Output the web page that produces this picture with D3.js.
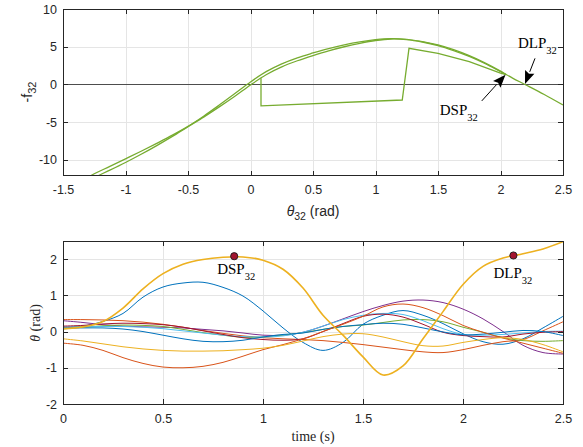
<!DOCTYPE html>
<html><head><meta charset="utf-8">
<script src="https://cdn.jsdelivr.net/npm/d3@7"></script>
<style>body{margin:0;background:#fff}svg{display:block}</style>
</head><body>
<svg id="c" width="583" height="447"></svg>
<script>
// ---------- top plot data: (theta32, -f32) trajectory ----------
const topXTicks = [-1.5,-1,-0.5,0,0.5,1,1.5,2,2.5];
const topYTicks = [-10,-5,0,5,10];
const branchATheta = [-1.3,-1.25,-1.125,-1.0,-0.875,-0.75,-0.625,-0.5,-0.375,-0.25,-0.125,0,0.125,0.25,0.375,0.5,0.625,0.75,0.875,1.0,1.125,1.25,1.375,1.5,1.625,1.75,1.875,2.0,2.045,2.1,2.2,2.35,2.5];
const branchAF     = [-12.35,-11.87,-10.89,-9.89,-8.88,-7.83,-6.75,-5.58,-4.23,-2.755,-1.22,0.32,1.68,2.72,3.52,4.16,4.75,5.25,5.65,5.94,6.08,5.98,5.68,5.24,4.6,3.8,2.85,1.75,1.3,0.8,-0.05,-1.35,-2.75];
const branchBTheta = [-1.3,-1.25,-1.125,-1.0,-0.875,-0.75,-0.625,-0.5,-0.375,-0.25,-0.125,0,0.125,0.25,0.375,0.5,0.625,0.75,0.875,1.0,1.125,1.25,1.375,1.5,1.625,1.75,1.875,2.0,2.045];
const branchBF     = [-12.85,-12.37,-11.39,-10.37,-9.28,-8.13,-6.91,-5.62,-4.35,-2.995,-1.58,-0.08,1.28,2.32,3.13,3.82,4.45,4.99,5.45,5.82,6.02,5.94,5.62,5.14,4.48,3.7,2.77,1.69,1.3];
const loopTheta = [0.084,0.084,1.214,1.268,1.5,1.75,2.0,2.045];
const loopF     = [0.8,-2.85,-2.08,4.78,4.1,3.0,1.5,1.28];
// annotation arrows (data coords): tip and tail
const dspArrow = {tip:[2.04,1.28], tail:[1.85,-2.2]};
const dlpArrow = {tip:[2.196,0.05], tail:[2.276,3.45]};

// ---------- bottom plot data: joint angles vs time ----------
const timeS = [0,0.1,0.2,0.3,0.4,0.5,0.6,0.7,0.8,0.9,1.0,1.1,1.2,1.3,1.4,1.5,1.6,1.7,1.8,1.9,2.0,2.1,2.2,2.3,2.4,2.5];
const botXTicks = [0,0.5,1,1.5,2,2.5];
const botYTicks = [-2,-1,0,1,2];
const blueBig    = [0.12,0.15,0.28,0.5,0.95,1.23,1.34,1.36,1.22,0.98,0.57,0.1,-0.3,-0.52,-0.3,0.2,0.45,0.58,0.45,0.22,-0.06,-0.28,-0.35,-0.2,0.1,0.42];
const orangeA    = [0.33,0.33,0.32,0.3,0.26,0.2,0.12,0.03,-0.05,-0.12,-0.17,-0.2,-0.22,-0.25,-0.3,-0.36,-0.43,-0.5,-0.56,-0.58,-0.5,-0.38,-0.28,-0.22,0.02,0.27];
const yellowThick= [0.08,0.13,0.28,0.65,1.18,1.6,1.86,1.99,2.05,2.06,1.97,1.72,1.2,0.45,-0.1,-0.7,-1.2,-0.95,-0.2,0.55,1.3,1.8,2.03,2.15,2.28,2.48];
const purple     = [0.3,0.25,0.19,0.15,0.13,0.12,0.1,0.06,0.02,-0.04,-0.1,-0.1,-0.02,0.15,0.35,0.55,0.72,0.84,0.87,0.8,0.62,0.35,0.0,-0.38,-0.58,-0.62];
const green      = [0.07,0.12,0.16,0.18,0.17,0.14,0.06,-0.03,-0.1,-0.16,-0.15,-0.1,-0.03,0.06,0.14,0.18,0.25,0.32,0.33,0.27,0.12,-0.02,-0.17,-0.25,-0.27,-0.25];
const lightBlue  = [0.12,0.13,0.14,0.14,0.12,0.08,0.02,-0.04,-0.1,-0.14,-0.15,-0.12,-0.02,0.15,0.33,0.45,0.5,0.47,0.3,0.08,-0.08,-0.1,-0.08,-0.04,0.0,0.01];
const darkRed    = [0.15,0.17,0.21,0.23,0.22,0.19,0.12,0.02,-0.08,-0.17,-0.22,-0.24,-0.2,0.0,0.22,0.42,0.48,0.4,0.2,-0.02,-0.11,-0.14,-0.15,-0.07,-0.02,0.0];
const blue2      = [0.1,0.1,0.1,0.07,0.0,-0.1,-0.2,-0.27,-0.28,-0.24,-0.15,-0.08,-0.04,0.06,0.14,0.19,0.23,0.2,0.1,-0.01,-0.09,-0.07,-0.02,0.03,0.0,-0.11];
const orangeB    = [-0.32,-0.38,-0.52,-0.72,-0.88,-0.98,-1.0,-0.96,-0.85,-0.68,-0.5,-0.36,-0.2,0.0,0.2,0.42,0.68,0.76,0.66,0.44,0.17,-0.02,-0.18,-0.32,-0.46,-0.6];
const yellowThin = [-0.2,-0.26,-0.34,-0.42,-0.48,-0.52,-0.54,-0.54,-0.53,-0.5,-0.46,-0.38,-0.26,-0.14,-0.07,-0.06,-0.15,-0.28,-0.39,-0.4,-0.3,-0.22,-0.17,-0.22,-0.36,-0.56];
const markerPoints = [{name:"DSP", t:0.856, v:2.08}, {name:"DLP", t:2.252, v:2.1}];

// ---------- drawing ----------
const C = {blue:"#0072BD", orange:"#D95319", yellow:"#EDB120", purple:"#7E2F8E", green:"#77AC30", lblue:"#4DBEEE", dred:"#A2142F"};
const SANS = "'Liberation Sans', Arial, Helvetica, sans-serif";
const SERIF = "'Liberation Serif', 'Times New Roman', serif";
const svg = d3.select("#c");

const topX = d3.scaleLinear().domain([-1.5,2.5]).range([63,563]);
const topY = d3.scaleLinear().domain([-12.1,10]).range([175.5,9]);
const botX = d3.scaleLinear().domain([0,2.5]).range([63,563]);
const botY = d3.scaleLinear().domain([-2,2.5]).range([404,241]);

function grid(x, y, xt, yt) {
  const [x0,x1] = x.range(), [yb,yt0] = y.range();
  const g = svg.append("g");
  g.append("g").attr("transform",`translate(0,${yb})`)
    .call(d3.axisBottom(x).tickValues(xt).tickSize(-(yb-yt0)).tickFormat(""))
    .call(s=>{s.select(".domain").remove(); s.selectAll("line").attr("stroke","#e5e5e5").attr("shape-rendering","crispEdges");});
  g.append("g").attr("transform",`translate(${x0},0)`)
    .call(d3.axisLeft(y).tickValues(yt).tickSize(-(x1-x0)).tickFormat(""))
    .call(s=>{s.select(".domain").remove(); s.selectAll("line").attr("stroke","#e5e5e5").attr("shape-rendering","crispEdges");});
}
function axes(x, y, xt, yt) {
  const [x0,x1] = x.range(), [yb,yt0] = y.range();
  const g = svg.append("g");
  const style = s => {
    s.select(".domain").remove();
    s.selectAll("line").attr("stroke","#262626").attr("shape-rendering","crispEdges");
    s.selectAll("text").attr("fill","#262626").style("font-family",SANS).style("font-size","12.5px");
  };
  g.append("g").attr("transform",`translate(0,${yb})`)
    .call(d3.axisBottom(x).tickValues(xt).tickSizeInner(-5).tickSizeOuter(0).tickPadding(10).tickFormat(d=>String(d))).call(style);
  g.append("g").attr("transform",`translate(0,${yt0})`)
    .call(d3.axisTop(x).tickValues(xt).tickSizeInner(-5).tickSizeOuter(0).tickFormat("")).call(style);
  g.append("g").attr("transform",`translate(${x0},0)`)
    .call(d3.axisLeft(y).tickValues(yt).tickSizeInner(-5).tickSizeOuter(0).tickPadding(6).tickFormat(d=>String(d))).call(style);
  g.append("g").attr("transform",`translate(${x1},0)`)
    .call(d3.axisRight(y).tickValues(yt).tickSizeInner(-5).tickSizeOuter(0).tickFormat("")).call(style);
  g.append("rect").attr("x",x0).attr("y",yt0).attr("width",x1-x0).attr("height",yb-yt0)
    .attr("fill","none").attr("stroke","#262626").attr("shape-rendering","crispEdges");
}

const defs = svg.append("defs");
defs.append("clipPath").attr("id","clipTop").append("rect")
  .attr("x",63).attr("y",9).attr("width",500).attr("height",166.5);
defs.append("clipPath").attr("id","clipBot").append("rect")
  .attr("x",63).attr("y",241).attr("width",500).attr("height",163);

// ===== TOP PLOT =====
grid(topX, topY, topXTicks, topYTicks);
svg.append("line").attr("x1",topX(-1.5)).attr("x2",topX(2.5)).attr("y1",topY(0)).attr("y2",topY(0))
  .attr("stroke","#4d4d4d").attr("stroke-width",1).attr("shape-rendering","crispEdges");
const topG = svg.append("g").attr("clip-path","url(#clipTop)");
const zipPts = (a,b) => a.map((v,i)=>[v,b[i]]);
const lineTop = d3.line().x(d=>topX(d[0])).y(d=>topY(d[1])).curve(d3.curveCatmullRom.alpha(0.5));
const lineTopLin = d3.line().x(d=>topX(d[0])).y(d=>topY(d[1]));
topG.append("path").attr("d",lineTop(zipPts(branchATheta,branchAF))).attr("fill","none").attr("stroke",C.green).attr("stroke-width",1.3);
topG.append("path").attr("d",lineTop(zipPts(branchBTheta,branchBF))).attr("fill","none").attr("stroke",C.green).attr("stroke-width",1.3);
topG.append("path").attr("d",lineTopLin(zipPts(loopTheta,loopF))).attr("fill","none").attr("stroke",C.green).attr("stroke-width",1.3).attr("stroke-linejoin","miter");
axes(topX, topY, topXTicks, topYTicks);

function arrow(a) {
  const tx = topX(a.tip[0]), ty = topY(a.tip[1]);
  const sx = topX(a.tail[0]), sy = topY(a.tail[1]);
  const ang = Math.atan2(ty-sy, tx-sx);
  const L = 13, Wd = 5;
  const bx = tx - L*Math.cos(ang), by = ty - L*Math.sin(ang);
  svg.append("line").attr("x1",sx).attr("y1",sy).attr("x2",bx).attr("y2",by).attr("stroke","#000").attr("stroke-width",1);
  const p1 = [bx + Wd*Math.sin(ang), by - Wd*Math.cos(ang)];
  const p2 = [bx - Wd*Math.sin(ang), by + Wd*Math.cos(ang)];
  svg.append("path").attr("d",`M${tx},${ty}L${p1[0]},${p1[1]}L${bx+2*Math.cos(ang)},${by+2*Math.sin(ang)}L${p2[0]},${p2[1]}Z`).attr("fill","#000");
}
arrow(dspArrow); arrow(dlpArrow);

function subLabel(x, y, main, sub, size, subSize, shift) {
  const t = svg.append("text").attr("x",x).attr("y",y).style("font-family",SERIF).style("font-size",size+"px").attr("fill","#000");
  t.append("tspan").text(main);
  t.append("tspan").attr("dy",shift).style("font-size",subSize+"px").text(sub);
  return t;
}
subLabel(topX(dlpArrow.tail[0]) - 17, topY(dlpArrow.tail[1]) - 10, "DLP", "32", 15, 10.5, 6);
subLabel(topX(dspArrow.tail[0]) - 42, topY(dspArrow.tail[1]) + 14, "DSP", "32", 15, 10.5, 6);

{
  const t = svg.append("text").attr("transform","translate(32,92) rotate(-90)").attr("text-anchor","middle")
    .style("font-family",SANS).style("font-size","14px").attr("fill","#262626");
  t.append("tspan").text("-f");
  t.append("tspan").attr("dy",4).style("font-size","11px").text("32");
}
{
  const t = svg.append("text").attr("x",313).attr("y",216).attr("text-anchor","middle")
    .style("font-family",SANS).style("font-size","14px").attr("fill","#262626");
  t.append("tspan").style("font-style","italic").text("θ");
  t.append("tspan").attr("dy",4).style("font-size","10.5px").text("32");
  t.append("tspan").attr("dy",-4).text(" (rad)");
}

// ===== BOTTOM PLOT =====
grid(botX, botY, botXTicks, botYTicks);
const botG = svg.append("g").attr("clip-path","url(#clipBot)");
const series = [
  {v:blueBig, c:C.blue, w:1},
  {v:orangeA, c:C.orange, w:1},
  {v:purple, c:C.purple, w:1},
  {v:green, c:C.green, w:1},
  {v:lightBlue, c:C.lblue, w:1},
  {v:darkRed, c:C.dred, w:1},
  {v:blue2, c:C.blue, w:1},
  {v:orangeB, c:C.orange, w:1},
  {v:yellowThin, c:C.yellow, w:1},
  {v:yellowThick, c:C.yellow, w:1.6}
];
const lineBot = d3.line().x((d,i)=>botX(timeS[i])).y(d=>botY(d)).curve(d3.curveCatmullRom.alpha(0.5));
series.forEach(s => {
  botG.append("path").attr("d",lineBot(s.v)).attr("fill","none").attr("stroke",s.c).attr("stroke-width",s.w);
});
axes(botX, botY, botXTicks, botYTicks);
markerPoints.forEach(p => {
  svg.append("circle").attr("cx",botX(p.t)).attr("cy",botY(p.v)).attr("r",3.6)
    .attr("fill",C.dred).attr("stroke","#1a1a1a").attr("stroke-width",0.9);
  subLabel(botX(p.t) - (p.name==="DSP"?17:20), botY(p.v) + (p.name==="DSP"?18:23), p.name, "32", 15, 10.5, 6);
});
{
  const t = svg.append("text").attr("transform","translate(40,323) rotate(-90)").attr("text-anchor","middle")
    .style("font-family",SERIF).style("font-size","14px").attr("fill","#262626");
  t.append("tspan").style("font-style","italic").text("θ");
  t.append("tspan").text(" (rad)");
}
svg.append("text").attr("x",313).attr("y",441).attr("text-anchor","middle")
  .style("font-family",SERIF).style("font-size","14px").attr("fill","#262626").text("time (s)");
</script></body></html>
